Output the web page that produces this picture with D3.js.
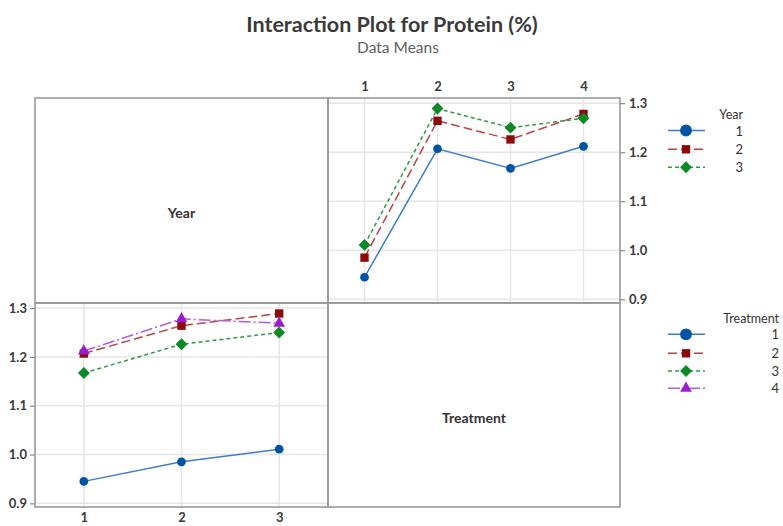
<!DOCTYPE html>
<html><head><meta charset="utf-8">
<script src="https://cdn.jsdelivr.net/npm/d3@7"></script>
<style>body{margin:0;background:#fff}svg{display:block}</style>
</head><body><svg id="c" width="783" height="526"></svg>
<script>
const years = ["1","2","3"];
const treatments = ["1","2","3","4"];
// means[year][treatment]
const year1 = [0.945, 1.207, 1.167, 1.212];
const year2 = [0.985, 1.264, 1.226, 1.278];
const year3 = [1.011, 1.289, 1.250, 1.269];
const yTicks = [0.9, 1.0, 1.1, 1.2, 1.3];
const title = "Interaction Plot for Protein (%)";
const subtitle = "Data Means";

const means = [year1, year2, year3];
const diamond = d3.symbolDiamond2 || d3.symbolDiamond;
const styles = [
  {marker:"#0053a5", line:"#3d7cc9", dash:null, shape:d3.symbolCircle, size:60},
  {marker:"#8c0a0a", line:"#b84545", dash:"9,4", shape:d3.symbolSquare, size:70},
  {marker:"#0b8a25", line:"#2e9a44", dash:"4,3", shape:diamond, size:90},
  {marker:"#9a1ed0", line:"#b25ddb", dash:"12,3,2,3", shape:d3.symbolTriangle, size:60}
];

const svg = d3.select("#c");
const font = "Lato, 'Open Sans', sans-serif";
const txt = "#333";

svg.append("text").attr("x",392).attr("y",32).attr("text-anchor","middle")
  .attr("font-family",font).attr("font-weight","bold").attr("font-size",21.5).attr("fill","#3a3a3a").text(title);
svg.append("text").attr("x",398).attr("y",53).attr("text-anchor","middle")
  .attr("font-family",font).attr("font-size",15.5).attr("fill","#606060").text(subtitle);

const L=35, M=328, R=620, T=98, H=303, B=507;
const yDom = [0.8925, 1.3105];

const yTR = d3.scaleLinear().domain(yDom).range([H, T]);
const yBL = d3.scaleLinear().domain(yDom).range([B, H]);
const xTR = d3.scalePoint().domain(treatments).range([M, R]).padding(0.5);
const xBL = d3.scalePoint().domain(years).range([L, M]).padding(0.5);

function grid(g, xs, xdom, ys, x0, x1, y0, y1){
  g.selectAll(".vg").data(xdom).join("line")
    .attr("x1",d=>xs(d)).attr("x2",d=>xs(d)).attr("y1",y0).attr("y2",y1)
    .attr("stroke","#e6e6e6").attr("stroke-width",1.5);
  g.selectAll(".hg").data(yTicks).join("line")
    .attr("x1",x0).attr("x2",x1).attr("y1",d=>ys(d)).attr("y2",d=>ys(d))
    .attr("stroke","#e6e6e6").attr("stroke-width",1.5);
}
const gTR = svg.append("g"); grid(gTR, xTR, treatments, yTR, M, R, T, H);
const gBL = svg.append("g"); grid(gBL, xBL, years, yBL, L, M, H, B);

// axes
const axStyle = g => {
  g.select(".domain").remove();
  g.selectAll(".tick line").attr("stroke","#888").attr("stroke-width",1.2);
  g.selectAll(".tick text").attr("font-family",font).attr("font-size",13).attr("font-weight","bold").attr("fill","#3a3a3a");
};
svg.append("g").attr("transform",`translate(${R},0)`)
  .call(d3.axisRight(yTR).tickValues(yTicks).tickFormat(d3.format(".1f")).tickSize(5).tickPadding(4)).call(axStyle);
svg.append("g").attr("transform",`translate(${L},0)`)
  .call(d3.axisLeft(yBL).tickValues(yTicks).tickFormat(d3.format(".1f")).tickSize(5).tickPadding(3)).call(axStyle);
svg.append("g").attr("transform",`translate(0,${T-4})`)
  .call(d3.axisTop(xTR).tickSize(0).tickPadding(3)).call(axStyle);
svg.append("g").attr("transform",`translate(0,${B+3})`)
  .call(d3.axisBottom(xBL).tickSize(0).tickPadding(3)).call(axStyle);

// frames
const fr = [[L,T,M,H],[M,T,R,H],[L,H,M,B],[M,H,R,B]];
svg.selectAll(".fr").data(fr).join("rect")
  .attr("x",d=>d[0]).attr("y",d=>d[1]).attr("width",d=>d[2]-d[0]).attr("height",d=>d[3]-d[1])
  .attr("fill","none").attr("stroke","#999").attr("stroke-width",1.6);

// panel labels
svg.append("text").attr("x",(L+M)/2).attr("y",218).attr("text-anchor","middle")
  .attr("font-family",font).attr("font-weight","bold").attr("font-size",14).attr("fill",txt).text("Year");
svg.append("text").attr("x",(M+R)/2).attr("y",423).attr("text-anchor","middle")
  .attr("font-family",font).attr("font-weight","bold").attr("font-size",14).attr("fill",txt).text("Treatment");

function series(g, pts, st){
  const line = d3.line().x(d=>d[0]).y(d=>d[1]);
  g.append("path").attr("d",line(pts)).attr("fill","none").attr("stroke",st.line)
    .attr("stroke-width",1.5).attr("stroke-dasharray",st.dash);
  g.selectAll(null).data(pts).join("path")
    .attr("transform",d=>`translate(${d[0]},${d[1]})`)
    .attr("d",d3.symbol().type(st.shape).size(st.size)).attr("fill",st.marker);
}

// top-right: Year lines over treatment
means.forEach((row,i)=>{
  series(gTR, treatments.map((t,j)=>[xTR(t), yTR(row[j])]), styles[i]);
});
// bottom-left: Treatment lines over year
treatments.forEach((t,j)=>{
  series(gBL, years.map((y,i)=>[xBL(y), yBL(means[i][j])]), styles[j]);
});

function legend(titleText, items, yTitle, ys, right){
  svg.append("text").attr("x",right).attr("y",yTitle+4).attr("text-anchor","end")
    .attr("font-family",font).attr("font-size",12.5).attr("fill",txt).text(titleText);
  items.forEach((lab,i)=>{
    const st = styles[i], y = ys[i];
    svg.append("line").attr("x1",668).attr("x2",705).attr("y1",y).attr("y2",y)
      .attr("stroke",st.line).attr("stroke-width",1.5).attr("stroke-dasharray",st.dash);
    svg.append("path").attr("transform",`translate(686,${y})`)
      .attr("d",d3.symbol().type(st.shape).size(i===0?110:st.size)).attr("fill",st.marker);
    svg.append("text").attr("x",right).attr("y",y+5).attr("text-anchor","end")
      .attr("font-family",font).attr("font-size",13).attr("fill",txt).text(lab);
  });
}
legend("Year", years, 115, [130.5,149.3,167.3], 743);
legend("Treatment", treatments, 319, [334.3,353.3,371,388.3], 779);
</script></body></html>
